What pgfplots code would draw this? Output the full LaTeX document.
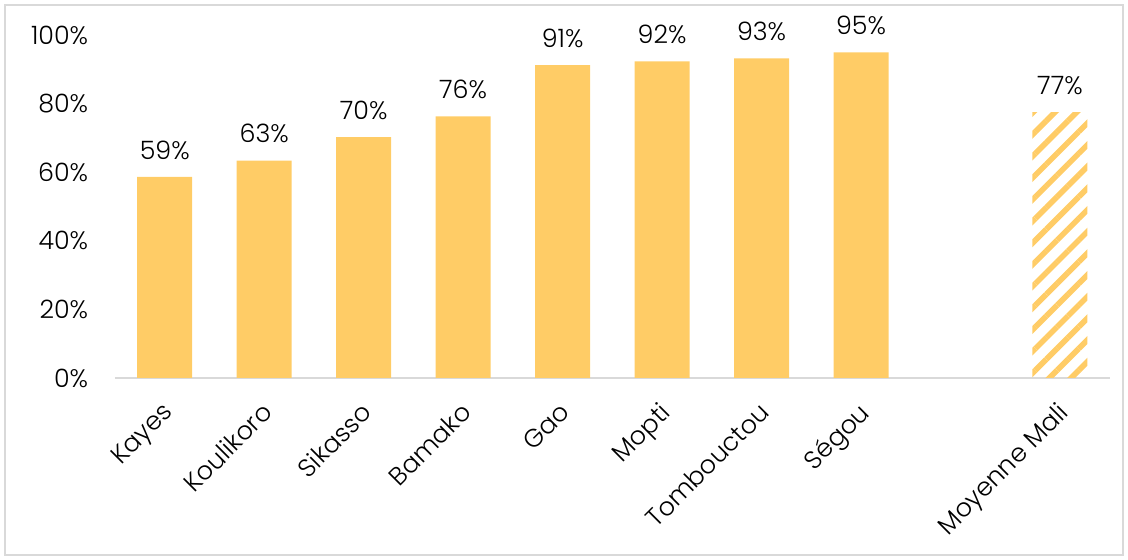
\documentclass[border=0pt]{standalone}
\usepackage{pgfplots}
\pgfplotsset{compat=1.18}
\usepackage{pgfplotstable}
\usepackage{fontspec}
\setmainfont{Poppins}[UprightFont=* Light]
\usetikzlibrary{patterns.meta}
\definecolor{barc}{RGB}{255,204,102}
\definecolor{axc}{RGB}{217,217,217}
\pgfplotstableread{
x y lab
0 58.6 59\%
1 63.4 63\%
2 70.2 70\%
3 76.3 76\%
4 91.2 91\%
5 92.3 92\%
6 93.2 93\%
7 94.9 95\%
}\regions
\pgfplotstableread{
x y lab
9 77.5 77\%
}\moyenne
\begin{document}
\begin{tikzpicture}
\path (-86.25pt,-136.5pt) rectangle (759.75pt,283.5pt);
\draw[axc, line width=1.5pt] (-82.5pt,-132.75pt) rectangle (756pt,279.75pt);
\begin{axis}[
  at={(0,0)}, anchor=south west,
  scale only axis, width=746pt, height=257.25pt,
  xmin=-0.5, xmax=9.5, ymin=0, ymax=100,
  axis x line*=bottom, axis y line*=left,
  x axis line style={axc, line width=1.5pt, -},
  y axis line style={draw=none},
  ytick={0,20,40,60,80,100},
  yticklabel={\pgfmathprintnumber{\tick}\%},
  xtick={0,1,2,3,4,5,6,7,9},
  xticklabels={Kayes,Koulikoro,Sikasso,Bamako,Gao,Mopti,Tombouctou,Ségou,Moyenne Mali},
  major tick length=0pt,
  tick label style={font=\fontsize{19}{22}\selectfont},
  xticklabel style={rotate=45, anchor=north east, inner sep=0pt, yshift=-10pt, xshift=-14pt},
  yticklabel style={anchor=east, inner sep=0pt, xshift=-20pt},
  /pgf/number format/assume math mode=true,
  clip=false,
]
\addplot[ybar, bar width=55pt*0.75, fill=barc, draw=none,
  nodes near coords, point meta=explicit symbolic,
  every node near coord/.style={font=\fontsize{19}{22}\selectfont, black, anchor=south, inner sep=0pt, yshift=13pt}]
  table[x=x, y=y, meta=lab] {\regions};
\addplot[ybar, bar width=55pt*0.75, draw=none,
  pattern={Lines[angle=45, distance=11.5pt, line width=4.2pt]}, pattern color=barc,
  nodes near coords, point meta=explicit symbolic,
  every node near coord/.style={font=\fontsize{19}{22}\selectfont, black, anchor=south, inner sep=0pt, yshift=13pt}]
  table[x=x, y=y, meta=lab] {\moyenne};
\end{axis}
\end{tikzpicture}
\end{document}
